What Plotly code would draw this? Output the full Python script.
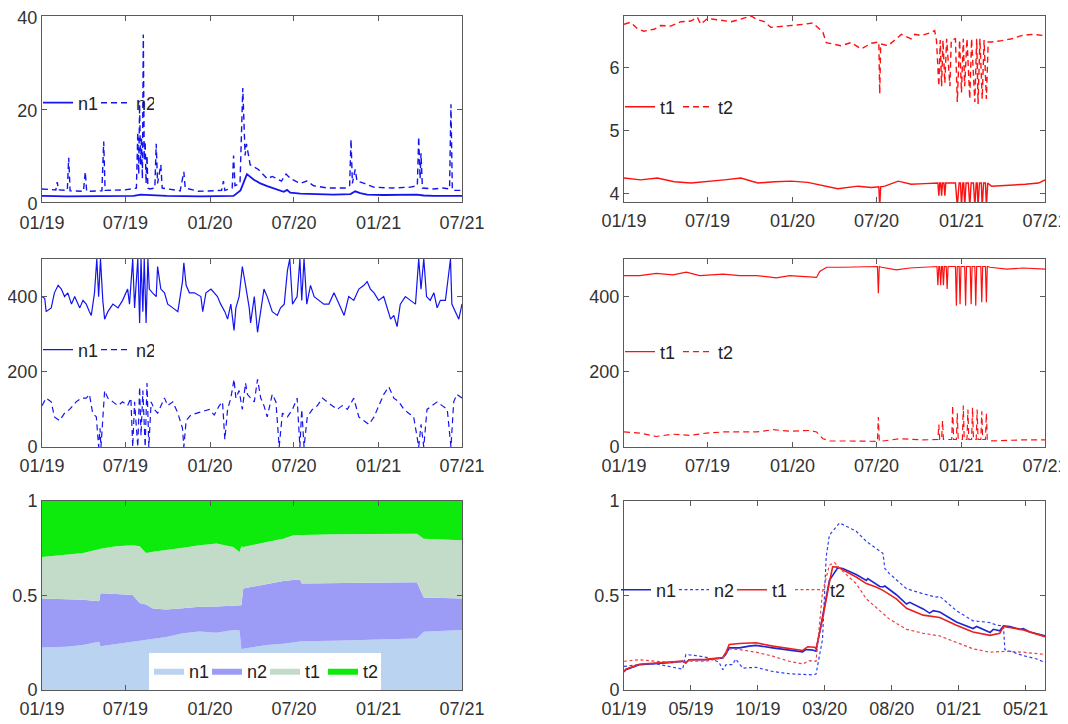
import pandas as pd
import plotly.graph_objects as go

BASE = pd.Timestamp("2019-01-01")

# ---------------- tick labels ----------------
TICK_DATES = ["2019-01-01", "2019-07-01", "2020-01-01", "2020-07-01", "2021-01-01", "2021-07-01"]
TICK_TEXT = ["01/19", "07/19", "01/20", "07/20", "01/21", "07/21"]
BR_TICK_DATES = ["2019-01-01", "2019-05-26", "2019-10-18", "2020-03-11", "2020-08-03", "2020-12-26", "2021-05-20"]
BR_TICK_TEXT = ["01/19", "05/19", "10/19", "03/20", "08/20", "01/21", "05/21"]

# ---------------- panel 1: n1 / n2 (small scale) ----------------
tl_n1_days = [0, 54, 127, 199, 214, 228, 271, 344, 416, 431, 445, 460, 474, 489, 510, 525, 532, 539, 561, 597,
              633, 670, 680, 691, 706, 742, 778, 814, 829, 851, 912]
tl_n1 = [1.3, 1.2, 1.25, 1.3, 1.6, 1.5, 1.3, 1.2, 1.3, 2.5, 6.0, 4.8, 4.0, 3.4, 2.6, 2.2, 2.6, 2.0, 1.8, 1.7,
         1.6, 1.7, 2.3, 1.9, 1.6, 1.5, 1.5, 1.6, 1.4, 1.3, 1.3]
tl_n2_days = [0, 30, 33, 36, 55, 58, 61, 90, 94, 97, 130, 134, 137, 180, 205, 208, 210, 212, 214, 216, 218, 220,
              222, 224, 226, 228, 230, 234, 245, 248, 251, 258, 261, 300, 308, 311, 340, 390, 394, 397, 413, 416,
              419, 430, 436, 438, 441, 444, 447, 452, 470, 489, 500, 520, 530, 540, 560, 575, 590, 620, 660, 668,
              671, 674, 680, 684, 700, 720, 760, 800, 815, 818, 821, 823, 826, 850, 870, 885, 888, 891, 912]
tl_n2 = [2.8, 2.6, 4.3, 2.6, 2.5, 9.5, 2.4, 2.3, 6.5, 2.3, 2.4, 13.0, 2.5, 2.6, 3.0, 15.0, 6.0, 21.0, 8.0, 14.0,
         5.0, 36.0, 9.0, 13.0, 4.0, 10.0, 3.0, 2.8, 3.0, 12.5, 4.0, 8.0, 3.0, 2.4, 6.5, 3.0, 2.3, 2.5, 4.5, 2.5,
         3.0, 10.0, 3.5, 4.0, 24.5, 16.0, 10.0, 12.5, 11.0, 8.0, 7.0, 5.0, 5.5, 4.5, 6.0, 5.0, 4.0, 4.5, 3.5, 3.0,
         3.0, 3.5, 13.5, 4.0, 7.0, 4.5, 4.0, 3.2, 3.0, 3.2, 3.5, 14.0, 5.0, 10.5, 3.0, 2.8, 3.0, 2.8, 21.0, 2.5,
         2.5]

# ---------------- panel 2: t1 / t2 (small scale) ----------------
tr_t1_days = [0, 36, 72, 109, 145, 181, 217, 253, 290, 326, 362, 398, 434, 463, 507, 536, 552, 554, 556, 565,
              594, 622, 651, 673, 680, 682, 684, 686, 688, 690, 693, 695, 697, 718, 722, 726, 729, 731, 734, 736,
              738, 741, 746, 749, 752, 757, 760, 763, 765, 767, 770, 774, 776, 779, 783, 785, 788, 796, 833, 869,
              898, 912]
tr_t1 = [4.25, 4.22, 4.25, 4.19, 4.17, 4.19, 4.22, 4.25, 4.17, 4.19, 4.20, 4.18, 4.12, 4.08, 4.12, 4.10, 4.11,
         3.80, 4.11, 4.12, 4.20, 4.15, 4.16, 4.17, 4.17, 3.97, 4.17, 4.17, 3.97, 4.17, 4.17, 3.97, 4.17, 4.17,
         3.80, 4.17, 4.17, 3.80, 4.17, 4.17, 3.80, 4.17, 4.17, 3.80, 4.17, 4.17, 3.80, 4.17, 4.17, 3.80, 4.17,
         4.17, 3.80, 4.17, 4.17, 3.80, 4.17, 4.12, 4.13, 4.15, 4.17, 4.22]
tr_t2_days = [0, 14, 29, 43, 65, 80, 101, 123, 145, 159, 166, 181, 203, 232, 253, 275, 290, 304, 318, 340, 362,
              391, 409, 420, 431, 438, 449, 470, 492, 514, 536, 552, 554, 556, 572, 586, 601, 622, 630, 644, 666,
              673, 677, 682, 685, 688, 691, 695, 699, 706, 709, 718, 722, 727, 731, 735, 738, 743, 749, 753, 760,
              764, 767, 771, 776, 780, 785, 789, 796, 818, 840, 861, 883, 912]
tr_t2 = [6.68, 6.71, 6.61, 6.57, 6.60, 6.66, 6.65, 6.72, 6.73, 6.79, 6.68, 6.77, 6.75, 6.72, 6.76, 6.81, 6.75,
         6.72, 6.63, 6.65, 6.66, 6.68, 6.70, 6.63, 6.55, 6.39, 6.37, 6.34, 6.39, 6.29, 6.38, 6.40, 5.58, 6.37,
         6.34, 6.42, 6.52, 6.45, 6.52, 6.50, 6.55, 6.58, 6.42, 5.70, 6.43, 5.70, 6.43, 5.75, 6.45, 5.70, 6.43,
         6.45, 5.45, 6.43, 5.60, 6.45, 5.70, 6.45, 5.50, 6.45, 5.45, 6.45, 5.42, 6.45, 5.50, 6.43, 5.50, 6.40,
         6.40, 6.42, 6.45, 6.50, 6.52, 6.50]

# ---------------- panel 3: n1 / n2 (large scale) ----------------
ml_n1_days = [0, 6, 9, 20, 27, 35, 42, 49, 56, 64, 71, 82, 89, 96, 103, 107, 114, 119, 123, 127, 132, 136, 143,
              154, 165, 175, 186, 190, 197, 201, 208, 212, 215, 219, 222, 226, 230, 233, 240, 248, 251, 258, 266,
              273, 284, 295, 305, 308, 313, 320, 331, 345, 349, 356, 367, 374, 381, 388, 397, 403, 410, 417, 421,
              428, 435, 442, 450, 453, 461, 468, 475, 482, 489, 500, 511, 518, 526, 533, 538, 544, 554, 560, 564,
              569, 575, 583, 591, 601, 612, 623, 634, 645, 656, 666, 677, 688, 699, 706, 713, 721, 731, 742, 749,
              757, 764, 771, 778, 789, 800, 811, 818, 823, 829, 835, 843, 851, 858, 865, 876, 887, 890, 897, 905,
              912]
ml_n1 = [400, 395, 360, 370, 410, 430, 420, 400, 410, 380, 400, 370, 390, 380, 360, 350, 410, 500, 400, 500, 390,
         340, 360, 380, 370, 390, 420, 380, 500, 370, 500, 330, 500, 360, 500, 330, 500, 420, 410, 400, 480, 420,
         410, 380, 370, 360, 440, 490, 430, 410, 410, 400, 360, 410, 420, 410, 400, 380, 360, 340, 380, 310, 370,
         400, 480, 430, 370, 330, 400, 305, 370, 420, 400, 360, 350, 370, 380, 470, 500, 380, 400, 500, 390, 500,
         380, 430, 400, 390, 380, 380, 410, 380, 350, 400, 390, 420, 430, 440, 420, 410, 390, 400, 370, 340, 350,
         320, 380, 400, 390, 380, 500, 420, 500, 400, 390, 410, 370, 390, 390, 500, 380, 360, 340, 380]
ml_n2_days = [0, 9, 20, 27, 38, 49, 60, 67, 74, 85, 96, 103, 110, 118, 123, 126, 128, 136, 143, 154, 165, 175,
              186, 193, 197, 201, 208, 212, 215, 219, 224, 228, 232, 237, 244, 251, 258, 266, 273, 284, 295, 305,
              308, 313, 323, 338, 352, 363, 374, 385, 392, 397, 403, 410, 417, 421, 428, 435, 442, 446, 453, 461,
              468, 475, 482, 489, 500, 508, 515, 522, 533, 544, 554, 560, 564, 569, 576, 587, 598, 609, 619, 630,
              641, 652, 663, 677, 688, 699, 710, 721, 731, 742, 753, 764, 775, 786, 796, 807, 814, 818, 823, 829,
              836, 847, 858, 869, 880, 888, 894, 901, 912]
ml_n2 = [110, 130, 120, 80, 70, 90, 100, 110, 120, 130, 130, 140, 90, 80, 0, 50, 0, 150, 130, 120, 110, 120, 110,
         130, 0, 120, 0, 160, 30, 150, 0, 170, 0, 120, 100, 90, 110, 130, 110, 120, 90, 50, 0, 70, 85, 90, 95, 100,
         85, 110, 120, 20, 100, 130, 180, 130, 150, 100, 170, 140, 130, 120, 180, 130, 110, 80, 140, 120, 0, 90,
         80, 100, 130, 0, 100, 0, 80, 100, 110, 130, 120, 110, 100, 110, 100, 130, 80, 70, 60, 80, 110, 140, 160,
         130, 120, 100, 90, 80, 30, 0, 60, 0, 100, 110, 120, 110, 100, 0, 120, 140, 130]

# ---------------- panel 4: t1 / t2 (large scale) ----------------
mr_t1_days = [0, 34, 70, 106, 135, 164, 215, 251, 287, 330, 359, 395, 417, 424, 439, 475, 504, 547, 549, 551,
              553, 558, 590, 619, 648, 674, 678, 680, 682, 684, 686, 688, 690, 692, 694, 698, 700, 702, 718, 720,
              722, 726, 728, 730, 738, 740, 742, 750, 752, 754, 760, 762, 764, 773, 775, 777, 783, 785, 787, 793,
              829, 865, 912]
mr_t1 = [456, 456, 462, 458, 465, 456, 460, 456, 456, 450, 456, 453, 451, 467, 478, 478, 478, 480, 480, 409, 480,
         478, 471, 476, 478, 480, 480, 430, 480, 480, 430, 480, 480, 430, 480, 480, 420, 480, 480, 376, 480, 480,
         380, 480, 480, 376, 480, 480, 380, 480, 480, 376, 480, 480, 385, 480, 480, 385, 480, 478, 473, 476, 473]
mr_t2_days = [0, 34, 70, 106, 142, 179, 215, 251, 287, 323, 359, 402, 417, 431, 446, 489, 547, 549, 551, 553, 561,
              598, 648, 674, 680, 682, 684, 688, 690, 692, 710, 712, 714, 720, 722, 724, 733, 735, 737, 743, 745,
              747, 753, 755, 757, 763, 765, 767, 773, 775, 777, 783, 785, 787, 793, 865, 912]
mr_t2 = [40, 37, 28, 34, 31, 37, 40, 40, 40, 46, 42, 44, 40, 22, 16, 16, 15, 15, 80, 15, 16, 22, 19, 19, 20, 60,
         20, 20, 70, 20, 20, 110, 20, 20, 90, 20, 20, 110, 20, 20, 100, 20, 20, 105, 20, 20, 100, 20, 20, 95, 20,
         20, 90, 20, 16, 19, 19]

# ---------------- panel 5: shares (stacked) ----------------
sh_days = [0, 52, 89, 124, 127, 161, 197, 212, 226, 241, 270, 306, 342, 379, 415, 429, 433, 437, 488, 524, 546,
           560, 564, 633, 705, 814, 829, 912]
sh_n1 = [.225, .229, .238, .255, .232, .243, .255, .258, .262, .268, .280, .300, .310, .303, .317, .315, .215, .218,
         .238, .245, .250, .255, .258, .260, .264, .273, .308, .317]
sh_n2 = [.259, .253, .240, .215, .280, .265, .247, .202, .190, .163, .146, .132, .130, .139, .127, .130, .233, .319,
         .322, .332, .332, .330, .305, .307, .304, .297, .181, .167]
sh_t1 = [.220, .233, .247, .275, .236, .252, .264, .300, .273, .301, .314, .320, .326, .333, .313, .285, .312, .220,
         .223, .223, .237, .235, .258, .257, .258, .257, .311, .308]
sh_t2 = [.296, .285, .275, .255, .252, .240, .234, .240, .275, .268, .260, .248, .234, .225, .243, .270, .240, .243,
         .217, .200, .181, .180, .179, .176, .174, .173, .200, .208]

# ---------------- panel 6: normalised series ----------------
br_n1_days = [0, 4, 33, 69, 105, 127, 134, 141, 177, 214, 221, 228, 250, 271, 286, 322, 358, 387, 394, 409, 416,
              430, 438, 445, 463, 474, 503, 525, 528, 546, 554, 561, 565, 590, 612, 619, 648, 662, 670, 684, 720,
              756, 764, 793, 800, 814, 822, 836, 858, 865, 879, 912]
br_n1 = [.098, .107, .134, .139, .146, .152, .143, .160, .160, .170, .190, .223, .223, .232, .236, .223, .211, .202,
         .214, .211, .205, .393, .500, .580, .646, .643, .611, .580, .590, .563, .548, .545, .550, .504, .455, .464,
         .429, .407, .420, .413, .360, .325, .336, .304, .321, .313, .339, .336, .321, .325, .307, .286]
br_n2_days = [0, 33, 69, 90, 127, 134, 156, 185, 206, 214, 221, 235, 242, 257, 286, 322, 358, 409, 416, 430, 438,
              445, 467, 503, 525, 561, 565, 575, 612, 648, 677, 684, 720, 756, 793, 807, 822, 825, 865, 894, 912]
br_n2 = [.125, .134, .139, .129, .110, .188, .182, .170, .146, .107, .134, .134, .164, .116, .120, .098, .086, .080,
         .084, .268, .705, .820, .884, .840, .786, .723, .643, .616, .536, .509, .491, .496, .420, .366, .357, .343,
         .339, .214, .182, .164, .146]
br_t1_days = [0, 4, 33, 69, 105, 127, 134, 141, 177, 214, 221, 228, 250, 286, 322, 358, 387, 398, 413, 416, 430,
              445, 452, 463, 503, 525, 546, 561, 590, 612, 648, 684, 720, 756, 793, 814, 822, 865, 912]
br_t1 = [.095, .110, .136, .141, .147, .153, .145, .160, .162, .172, .200, .241, .246, .250, .232, .220, .209, .229,
         .226, .218, .375, .570, .652, .650, .598, .563, .545, .527, .482, .432, .396, .384, .343, .307, .289, .300,
         .336, .318, .282]
br_t2_days = [0, 33, 69, 105, 141, 177, 214, 228, 250, 286, 322, 358, 387, 402, 416, 430, 445, 456, 467, 503, 525,
              546, 575, 612, 648, 684, 720, 756, 793, 829, 865, 912]
br_t2 = [.152, .160, .152, .146, .152, .152, .170, .218, .214, .200, .179, .152, .138, .155, .152, .518, .660, .675,
         .643, .563, .482, .438, .375, .321, .300, .286, .250, .218, .200, .205, .200, .188]


def to_dates(days):
    return BASE + pd.to_timedelta(days, unit="D")


FONT = "Liberation Sans Narrow, Arial Narrow, Liberation Sans, Arial, sans-serif"
BLUE = "#1414F0"
RED = "#FF1010"
DASH = "6px,4px"
DOT = "3px,2.5px"

fig = go.Figure()


def line(days, vals, name, color, dash, xa, ya, legend, width=1.4):
    fig.add_trace(go.Scatter(x=to_dates(days), y=vals, mode="lines", name=name,
                             line=dict(color=color, width=width, dash=dash),
                             xaxis=xa, yaxis=ya, legend=legend))


line(tl_n1_days, tl_n1, "n1", BLUE, "solid", "x", "y", "legend", 1.8)
line(tl_n2_days, tl_n2, "n2", BLUE, DASH, "x", "y", "legend")
line(tr_t1_days, tr_t1, "t1", RED, "solid", "x2", "y2", "legend2")
line(tr_t2_days, tr_t2, "t2", RED, DASH, "x2", "y2", "legend2")
line(ml_n1_days, ml_n1, "n1", BLUE, "solid", "x3", "y3", "legend3", 1.2)
line(ml_n2_days, ml_n2, "n2", BLUE, DASH, "x3", "y3", "legend3", 1.2)
line(mr_t1_days, mr_t1, "t1", RED, "solid", "x4", "y4", "legend4", 1.2)
line(mr_t2_days, mr_t2, "t2", RED, DASH, "x4", "y4", "legend4", 1.2)

for name, vals, col in [("n1", sh_n1, "#B9D3F0"), ("n2", sh_n2, "#9C9CF7"),
                        ("t1", sh_t1, "#C3DCC9"), ("t2", sh_t2, "#0CEB0C")]:
    fig.add_trace(go.Scatter(x=to_dates(sh_days), y=vals, mode="lines", name=name, stackgroup="one",
                             line=dict(width=0, color=col), fillcolor=col,
                             xaxis="x5", yaxis="y5", legend="legend5"))

line(br_n1_days, br_n1, "n1", "#1E28D2", "solid", "x6", "y6", "legend6", 1.6)
line(br_n2_days, br_n2, "n2", "#3040F0", DOT, "x6", "y6", "legend6", 1.2)
line(br_t1_days, br_t1, "t1", "#E82020", "solid", "x6", "y6", "legend6", 1.6)
line(br_t2_days, br_t2, "t2", "#F04040", DOT, "x6", "y6", "legend6", 1.2)

# the page body adds an 8px margin, so the figure is 8px smaller and coordinates are shifted
OFF = 8
W, H = 1068 - OFF, 724 - OFF


def px_x(p):
    return (p - OFF) / W


def px_y(p):
    return 1 - (p - OFF) / H


LX = [px_x(42), px_x(462)]
RX = [px_x(624), px_x(1045)]
ROWS = [[px_y(202), px_y(16)], [px_y(447), px_y(259)], [px_y(690), px_y(501)]]

axis_style = dict(showline=True, linecolor="#5a5a5a", linewidth=1, mirror="ticks", ticks="inside",
                  ticklen=5, tickcolor="#5a5a5a", showgrid=False, zeroline=False, automargin=False,
                  ticklabeloverflow="allow",
                  tickfont=dict(family=FONT, size=18, color="#333333"))

date_range = ["2019-01-01", "2021-07-01"]
layout = dict(width=W, height=H, margin=dict(l=0, r=0, t=0, b=0, autoexpand=False),
              paper_bgcolor="white", plot_bgcolor="white", font=dict(family=FONT, size=18, color="#222222"))

cells = [(LX, ROWS[0], [0, 40], [0, 20, 40]),
         (RX, ROWS[0], [3.87, 6.81], [4, 5, 6]),
         (LX, ROWS[1], [0, 500], [0, 200, 400]),
         (RX, ROWS[1], [0, 500], [0, 200, 400]),
         (LX, ROWS[2], [0, 1], [0, 0.5, 1]),
         (RX, ROWS[2], [0, 1], [0, 0.5, 1])]
for i, (xd, yd, yr, yt) in enumerate(cells, start=1):
    sfx = "" if i == 1 else str(i)
    xa = dict(axis_style, domain=xd, anchor="y" + sfx, type="date", range=date_range,
              ticklabelstandoff=4 if i == 1 else 2)
    if i == 6:
        xa.update(tickvals=BR_TICK_DATES, ticktext=BR_TICK_TEXT)
    else:
        xa.update(tickvals=TICK_DATES, ticktext=TICK_TEXT)
    ya = dict(axis_style, domain=yd, anchor="x" + sfx, range=yr, tickvals=yt)
    if i == 1:
        ya["ticklabelshift"] = 2
    layout["xaxis" + sfx] = xa
    layout["yaxis" + sfx] = ya

leg_common = dict(orientation="h", bgcolor="rgba(0,0,0,0)", borderwidth=0, itemwidth=30,
                  entrywidth=13, entrywidthmode="pixels",
                  font=dict(family=FONT, size=18, color="#222222"), xanchor="left", yanchor="middle",
                  tracegroupgap=0, itemclick=False, itemdoubleclick=False)
layout["legend"] = dict(leg_common, x=px_x(38), y=px_y(103))
layout["legend2"] = dict(leg_common, x=px_x(620), y=px_y(107))
layout["legend3"] = dict(leg_common, x=px_x(38), y=px_y(350))
layout["legend4"] = dict(leg_common, x=px_x(620), y=px_y(352))
layout["legend5"] = dict(leg_common, x=px_x(265), y=px_y(671), xanchor="center", bgcolor="white",
                         traceorder="normal")
layout["legend6"] = dict(leg_common, x=px_x(616), y=px_y(590))

fig.update_layout(**layout)
fig.write_html("out.html")
